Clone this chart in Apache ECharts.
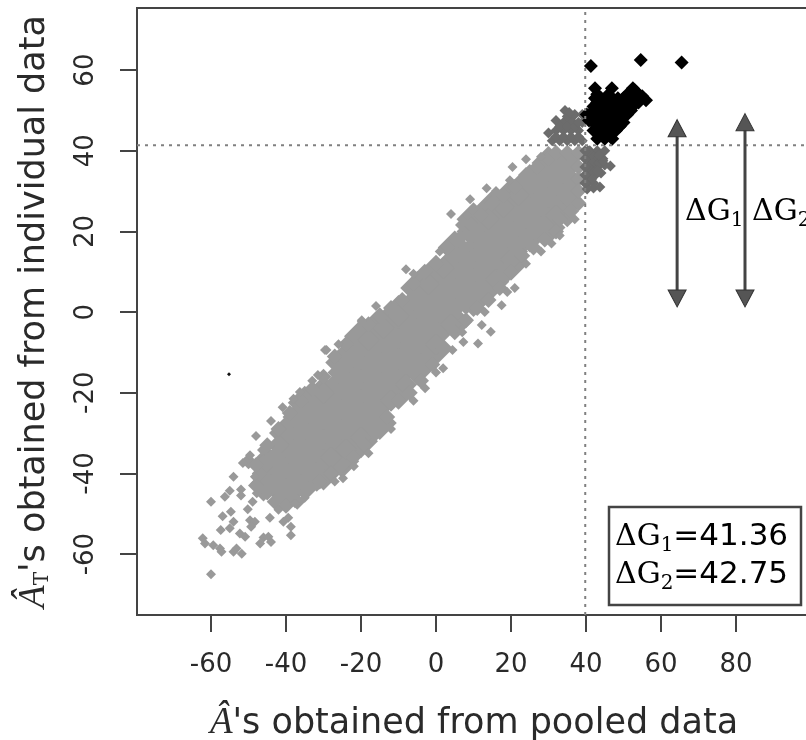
<!DOCTYPE html>
<html><head><meta charset="utf-8">
<style>html,body{margin:0;padding:0;background:#fff}#c{width:806px;height:740px}</style>
<script src="https://cdn.jsdelivr.net/npm/echarts@6/dist/echarts.min.js"></script>
</head><body><div id="c"></div>
<script>
const xTicks=[-60,-40,-20,0,20,40,60,80];
const yTicks=[-60,-40,-20,0,20,40,60];
const xThreshold=39.8;
const yThreshold=41.36;
const deltaG1Arrow=[[64.3,45.6],[64.3,3.4]];
const deltaG2Arrow=[[82.4,47.1],[82.4,3.4]];
const grayCore=[
[-45,-42.5],[-45,-37.5],
[-40,-45],[-40,-40],[-40,-35],[-40,-30],
[-35,-42.5],[-35,-37.5],[-35,-32.5],[-35,-27.5],[-35,-22.5],
[-30,-40],[-30,-35],[-30,-30],[-30,-25],[-30,-20],
[-25,-37],[-25,-32.5],[-25,-27.5],[-25,-22.5],[-25,-17.5],[-25,-12.5],
[-20,-32],[-20,-30],[-20,-25],[-20,-20],[-20,-15],[-20,-10],[-20,-6],
[-15,-27.5],[-15,-22.5],[-15,-17.5],[-15,-12.5],[-15,-7.5],[-15,-3],
[-10,-20],[-10,-15],[-10,-10],[-10,-5],[-10,0],
[-5,-14],[-5,-12.5],[-5,-7.5],[-5,-2.5],[-5,2.5],[-5,6],
[0,-9],[0,-5],[0,0],[0,5],[0,10],
[5,-2.5],[5,2.5],[5,7.5],[5,12.5],[5,16],
[10,3],[10,5],[10,10],[10,15],[10,20],[10,23],
[15,7.5],[15,12.5],[15,17.5],[15,22.5],[15,26],
[20,12],[20,15],[20,20],[20,25],[20,29],
[25,19],[25,22.5],[25,27.5],[25,32.5],
[30,21],[30,25],[30,30],[30,35],[30,37],
[34,26.5],[34,31],[34,36]
];
const grayFill=[
[-46,-38],[-42,-33],[-38,-29],[-34,-25],[-30,-20],[-26,-15],[-22,-11],[-18,-7],[-14,-4],[-10,-1],[-6,3],[-2,7],[2,11],[6,15],[10,20],[14,23],[18,26],[22,29],[26,32],[30,35],
[-44,-43],[-40,-44],[-36,-43],[-32,-40],[-28,-36],[-24,-34],[-20,-31],[-16,-26],[-12,-22],[-8,-18],[-4,-13],[0,-8],[4,-3],[8,2],[12,5],[16,8],[20,13],[24,18],[28,21],[32,24],[36,28],
[22,16],[19,10],[-38,-26],[-43,-36],[35,29],[36,33]
];
const grayEdge=[
[-50,-37],[-48,-43],[-47,-40],[-48,-38],[-45,-33],[-42,-29],[-39,-25],[-36,-22],[-33,-19],[-30,-16],[-27,-11],[-24,-8],[-21,-5],[-18,-3],[-15,-1],[-12,1],[-9,3],[-6,7],[-3,10],[0,12],[3,16],[6,18],[9,22],[12,24],[15,27],[18,29],[21,31],[24,34],[27,36],[30,38],
[-46,-45],[-43,-47],[-40,-48],[-37,-47],[-34,-44],[-31,-42],[-28,-40],[-25,-38],[-22,-36],[-19,-33],[-16,-30],[-13,-26],[-10,-22],[-7,-20],[-4,-17],[-1,-13],[2,-9],[5,-5],[8,-2],[11,1],[14,3],[17,6],[20,10],[23,14],[26,16],[29,18],[32,20],[35,23],[38,27],
[37,38.5],[38,36],[38,33],[38,30],[32,39.5],[35,39.5],[38,39.5],[36,25],[33,23]
];
const grayOutliers=[
[-60,-47],[-56.3,-45.8],[-55,-44.3],[-54,-40.8],[-52,-44],[-52,-45.5],[-50.2,-48.9],[-48.9,-47],[-56.9,-50.6],[-54.7,-49.5],[-54,-52],[-55,-53.6],[-57.4,-54],[-49.6,-51.6],[-48.3,-52],[-49.3,-53.2],[-52.3,-54.9],[-50.9,-55.7],[-62.2,-56.1],[-61.6,-57.4],[-59.4,-57.8],[-57.6,-58.6],[-57.2,-59.4],[-54,-59.4],[-53.2,-58.6],[-51.8,-59.9],[-46.9,-57.4],[-46,-55.9],[-44,-57],[-44.7,-55.7],[-60,-65],[-38.7,-55.3],[-38.7,-53.2],[-40.7,-52],[-39.4,-51],[-44.3,-51],[-48,-30.7],[-46.4,-34.2],[-40.9,-23.6],[-21.9,-38.2],[-24.8,-41.2],[-31.8,-43.3],[-37.6,-47.4],[-29.2,-9.4],[-19.8,-2.4],[-31.5,-15.6],[-36.3,-19.8],[-51.5,-37.4],[-49.6,-35.5],[-48.3,-40.8],[-47.8,-44.9],
[-8,10.6],[21,6],[17.5,1.7],[14.6,-4.9],[12.2,-3.2],[11.2,-7.8],[7.3,-7.4],[4.4,-9.4],[1.9,-13.9],[-2.9,-18.9],[-29.6,-9.4],[-19.8,-2],
[20.4,36],[9.1,28],[4,24.3],[24,37.9],[30.8,17],[13.5,30.7],[6.4,21.6],[8.5,24],[19.7,32.7],[-44,-27],[-38,-21.5],[-33,-17],[-26,-8],[-16,1.5],[-6,9.5],[1,15],[16,30],[28,38.5],
[-42,-49],[-35,-46],[-27,-42],[-18,-35],[-12,-29],[-6,-22],[0,-15],[7,-5],[13,0],[19,5],[24,12],[28,15],[33,19],[37,23]
];
const darkPoints=[
[31,42.5],[33,42.5],[35,42.5],[37,42.5],[39,42.5],[30,44.4],[32,45],[34,45],[36,45],[38,45],[39,47],[32,47.5],[34,47],[36,47.5],[37,49],[34.4,50],[35,48.5],[39,49],[33,46],[35,46],[37,46],[32,43.5],[34,43.5],[36,43.5],[38,43.5],[38,47],[35.5,49.5],
[41,40],[43,40],[45,40],[40.5,38],[42.5,38],[44.5,38],[46.5,36.2],[41,36],[43,36],[45,36.5],[40.5,34],[42.5,34],[44,34.5],[40.5,32],[42,32],[43.7,31],[40.3,30.5],[42,30.8],[41.5,37],[43.5,37],[44.5,37.5],[41.5,39],[43.5,39],[41.5,35],[43,35],[41.5,33],[40.5,36],[40.5,40],[39.7,38],[39.7,36],[39.7,34],[39.7,32],[39.7,40]
];
const blackPoints=[
[43,43],[45,43],[47,43],[44,44],[46,44],
[42,45],[44,45],[46,45],[48,45],[43,46],[45,46],[47,46],[49,46],
[42,47],[44,47],[46,47],[48,47],[50,47],[43,48],[45,48],[47,48],[49,48],
[41,49],[43,49],[45,49],[47,49],[49,49],[51,49],[42,50],[44,50],[46,50],[48,50],[50,50],
[42,51],[44,51],[46,51],[48,51],[50,51],[52,50],[43,52],[45,52],[47,52],[49,52],[51,52.5],[53,51.5],
[42.4,53],[44,53],[46.9,53],[48.5,53],[50,53],[52,52.5],[54,52],[56,52.5],[55,53.5],[43,54],[46,54],[53,55],[54,53.5],[40.8,47.5],[40.2,49],
[42.4,55.5],[46.9,55.5],[51,54],[52.5,55.5],[53.5,54.5],
[41.3,61],[54.6,62.5],[65.5,61.9]
];
const strayDot=[[-55.2,-15.4]];

const GRAY='#999999',DARK='#6c6c6c',INK='#2a2a2a',MONO='"DejaVu Sans"',SERIF='"DejaVu Serif"';
const scat=(name,data,size,color)=>({name,type:'scatter',data,symbol:'diamond',symbolSize:size,itemStyle:{color,opacity:1},silent:true,animation:false});
const refLine=(name,data)=>({name,type:'line',data,symbol:'none',silent:true,animation:false,lineStyle:{color:'#808080',width:2,type:[3,5]},z:5});
const arrow=(name,pts)=>({name,type:'line',silent:true,animation:false,z:6,
  data:[{value:pts[0],symbol:'triangle',symbolSize:[18,17]},{value:pts[1],symbol:'triangle',symbolRotate:180,symbolSize:[18,17]}],
  lineStyle:{color:'#444',width:3},itemStyle:{color:'#555',borderColor:'#333',borderWidth:1}});
const subRich={g:{fontFamily:SERIF,fontSize:30,color:INK,lineHeight:38},s:{fontFamily:SERIF,fontSize:20,color:INK,lineHeight:38,verticalAlign:'bottom'},v:{fontFamily:MONO,fontSize:31,color:INK,lineHeight:38}};

const chart=echarts.init(document.getElementById('c'),null,{renderer:'canvas'});
chart.setOption({
  animation:false,backgroundColor:'#fff',
  grid:{left:137,top:8,right:-5,bottom:125,show:true,borderColor:'#444',borderWidth:2,backgroundColor:'transparent',outerBoundsMode:'none',containLabel:false},
  xAxis:{type:'value',min:-79.73,max:100,
    name:"{i|Â}{t|'s obtained from pooled data}",nameLocation:'middle',nameGap:90,nameMoveOverlap:false,
    nameTextStyle:{rich:{i:{fontFamily:'"Liberation Serif"',fontStyle:'italic',fontSize:37,color:INK},t:{fontFamily:MONO,fontSize:35,color:INK}}},
    splitLine:{show:false},axisLine:{show:true,onZero:false,lineStyle:{color:'#444',width:2}},
    axisTick:{show:true,length:17,customValues:xTicks,lineStyle:{color:'#444',width:2}},
    axisLabel:{customValues:xTicks,margin:37,fontFamily:MONO,fontSize:26,color:INK,showMinLabel:true,showMaxLabel:true}},
  yAxis:{type:'value',min:-75.1,max:75.4,
    name:"{i|Â}{u|T}{t|'s obtained from individual data}",nameLocation:'middle',nameGap:84,nameRotate:90,nameMoveOverlap:false,
    nameTextStyle:{rich:{i:{fontFamily:'"Liberation Serif"',fontStyle:'italic',fontSize:37,color:INK},u:{fontFamily:SERIF,fontSize:20,color:INK,verticalAlign:'bottom'},t:{fontFamily:MONO,fontSize:35,color:INK}}},
    splitLine:{show:false},axisLine:{show:true,onZero:false,lineStyle:{color:'#444',width:2}},
    axisTick:{show:true,length:17,customValues:yTicks,lineStyle:{color:'#444',width:2}},
    axisLabel:{customValues:yTicks,rotate:90,margin:38,fontFamily:MONO,fontSize:26,color:INK,align:'center',verticalAlign:'bottom',showMinLabel:true,showMaxLabel:true}},
  series:[
    scat('core',grayCore,34,GRAY),
    scat('fill',grayFill,22,GRAY),
    scat('edge',grayEdge,16,GRAY),
    scat('outliers',grayOutliers,10,GRAY),
    scat('dark',darkPoints,11,DARK),
    scat('black',blackPoints,14,'#000'),
    scat('stray',strayDot,4,'#111'),
    refLine('vline',[[xThreshold,-75.1],[xThreshold,75.4]]),
    refLine('hline',[[-79.73,yThreshold],[100,yThreshold]]),
    arrow('dg1',deltaG1Arrow),
    arrow('dg2',deltaG2Arrow)
  ],
  graphic:[
    {type:'rect',z:20,shape:{x:609,y:507,width:192,height:98},style:{fill:'#fff',stroke:'#444',lineWidth:2.5}},
    {type:'text',z:21,x:615,y:518,style:{rich:subRich,text:'{g|ΔG}{s|1}{v|=41.36}'}},
    {type:'text',z:21,x:615,y:556,style:{rich:subRich,text:'{g|ΔG}{s|2}{v|=42.75}'}},
    {type:'text',z:21,x:685,y:193,style:{rich:subRich,text:'{g|ΔG}{s|1}'}},
    {type:'text',z:21,x:752,y:193,style:{rich:subRich,text:'{g|ΔG}{s|2}'}}
  ]
});
</script></body></html>
